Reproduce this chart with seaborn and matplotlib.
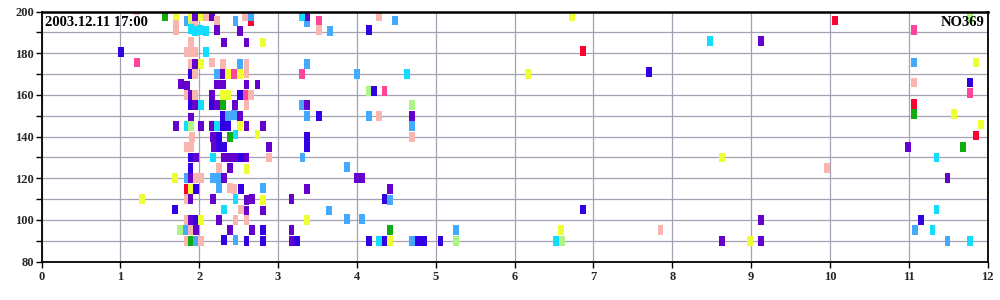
import numpy as np
import pandas as pd
import matplotlib
matplotlib.use("Agg")
import matplotlib.pyplot as plt
import seaborn as sns
from matplotlib.markers import MarkerStyle
from matplotlib.ticker import MultipleLocator

# ---------------- data ----------------
# kinds: P purple, B blue, L light blue, C cyan, S salmon, K pink,
#        R red, G green, E light green, Y yellow
x_vals = [
    1.21, 1.565, 1.71, 1.71, 1.71, 1.84, 1.90, 1.90, 1.95, 1.95, 2.02, 2.09, 2.16, 2.23, 2.46, 2.58, 2.66, 2.66,
    3.37, 3.37, 3.30, 3.52, 3.52, 3.66, 4.28, 4.48, 4.15, 6.73, 6.87, 10.06, 11.77, 11.07, 8.48, 9.12,
    1.90, 1.95, 2.01, 2.09, 2.23, 2.52,
    1.90, 2.32, 2.60, 2.81,
    1.008, 1.84, 1.90, 1.95, 2.09,
    1.21, 1.90, 1.95, 2.02, 2.16, 2.30, 2.52, 2.60, 2.60, 3.37, 11.07, 11.85,
    1.90, 1.95, 2.23, 2.30, 2.37, 2.44, 2.52, 3.30, 4.00, 4.64, 6.17, 7.71,
    1.77, 1.84, 2.23, 2.30, 2.60, 2.74, 11.07, 11.77,
    1.84, 1.90, 1.95, 2.16, 2.30, 2.37, 2.52, 2.59, 2.66, 4.15, 4.22, 4.35, 11.77,
    1.90, 1.95, 2.02, 2.16, 2.23, 2.30, 2.45, 2.60, 3.30, 3.37, 4.70, 11.07,
    1.90, 2.30, 2.37, 2.44, 2.52, 3.37, 3.52, 4.15, 4.28, 4.70, 11.07, 11.57,
    1.71, 1.84, 1.90, 2.02, 2.16, 2.23, 2.30, 2.37, 2.52, 2.60, 2.81, 4.70, 11.91,
    1.91, 2.17, 2.25, 2.39, 2.46, 2.74, 3.37, 4.70, 11.85,
    1.84, 1.90, 2.19, 2.25, 2.32, 2.89, 3.37, 10.99, 11.69,
    1.89, 1.96, 2.17, 2.31, 2.39, 2.46, 2.53, 2.60, 2.89, 3.31, 8.63, 11.35,
    1.89, 2.25, 2.39, 2.60, 3.87, 9.96,
    1.69, 1.84, 1.89, 1.96, 2.02, 2.17, 2.24, 2.31, 4.00, 4.07, 11.49,
    1.84, 1.89, 1.96, 2.25, 2.39, 2.44, 2.53, 2.81, 3.37, 4.42,
    1.27, 1.84, 1.89, 2.17, 2.46, 2.60, 2.67, 2.81, 3.17, 4.35, 4.42,
    1.69, 2.31, 2.53, 2.60, 2.81, 3.65, 6.87, 11.35,
    1.84, 1.89, 1.96, 2.02, 2.25, 2.46, 2.60, 3.37, 3.87, 4.07, 9.12, 11.15,
    1.76, 1.83, 1.89, 1.96, 2.39, 2.67, 2.81, 3.17, 4.42, 5.26, 6.59, 7.85, 11.08, 11.30,
    1.84, 1.89, 1.96, 2.02, 2.31, 2.46, 2.60, 2.81, 3.17, 3.24, 4.15, 4.28, 4.35, 4.42, 4.70, 4.78, 4.85,
    5.06, 5.26, 6.53, 6.60, 8.63, 8.98, 9.12, 11.49, 11.78,
]
y_vals = [
    200.7, 198, 198, 193.8, 190.9, 195.4, 195, 197.7, 194.5, 197.7, 197.7, 197.7, 198, 195.7, 195.4, 198, 195.4, 198,
    195, 197.7, 198, 195.7, 191, 190.7, 198, 195.7, 191, 198, 181, 195.7, 197, 191, 186, 186,
    191.5, 190.5, 191, 190.8, 191, 190.5,
    185.4, 185.2, 185.2, 185.2,
    180.8, 180.5, 180.5, 180.5, 180.5,
    175.6, 175, 175, 175, 175.6, 175, 175, 170.6, 175, 175, 175.6, 175.6,
    170.1, 170.1, 170.1, 170.1, 170.1, 170.1, 170.1, 170.1, 170, 170, 170, 171,
    165.3, 164.5, 165, 165, 165, 165, 166, 166,
    160, 160, 160, 160, 160, 160, 160, 160, 160, 162, 162, 162, 161,
    155, 155, 155, 155, 155, 155, 155, 155, 155, 155, 155, 155.8,
    149, 150, 150, 150.5, 150, 150, 150, 150, 150, 150, 150.7, 150.7,
    145, 145, 145, 145, 145, 145, 145, 145, 145, 145, 145, 145, 145.8,
    140, 140, 140, 140, 141, 141, 140, 140, 140.5,
    135, 135, 135, 135, 135, 135, 135, 135, 135,
    130, 130, 130, 130, 130, 130, 130, 130, 130, 130, 130, 130,
    125, 125, 125, 124.5, 125.3, 125,
    120, 120, 120, 120, 120, 120, 120, 120, 120, 120, 120,
    115, 115, 115, 115.5, 115.5, 115, 115, 115.5, 115, 115,
    110, 110, 110, 110, 110, 109.5, 110, 109.5, 110, 110, 109.5,
    105, 105, 105, 104.5, 104.5, 104.5, 105, 105,
    100, 100, 100, 100, 100, 100, 100, 100, 100.5, 100.5, 100, 100,
    95, 95, 95, 95, 95, 95, 95, 95, 95, 95, 95, 95, 95, 95,
    90, 90, 90, 90, 90.5, 90.5, 90, 90, 90, 90, 90, 90, 90, 90, 90, 90, 90,
    90, 90, 90, 90, 90, 90, 90, 90, 90,
]
kinds = [
    "S", "G", "Y", "S", "S", "L", "E", "Y", "S", "P", "Y", "S", "P", "S", "L", "S", "R", "L",
    "L", "P", "C", "K", "S", "L", "S", "L", "B", "Y", "R", "R", "E", "K", "C", "P",
    "C", "C", "C", "C", "P", "P",
    "S", "P", "P", "Y",
    "B", "S", "S", "S", "C",
    "K", "S", "P", "Y", "S", "S", "L", "S", "S", "L", "L", "Y",
    "B", "S", "L", "P", "Y", "K", "Y", "K", "L", "C", "Y", "B",
    "P", "P", "P", "P", "P", "P", "S", "B",
    "S", "P", "S", "P", "Y", "Y", "B", "K", "S", "E", "B", "K", "K",
    "B", "P", "C", "B", "P", "G", "P", "S", "L", "P", "E", "R",
    "P", "B", "L", "L", "P", "L", "B", "L", "S", "P", "G", "Y",
    "P", "C", "E", "P", "P", "C", "B", "B", "Y", "P", "P", "L", "Y",
    "S", "P", "B", "G", "C", "Y", "B", "S", "R",
    "S", "S", "P", "B", "B", "P", "B", "P", "G",
    "B", "P", "C", "P", "P", "P", "B", "P", "S", "L", "Y", "C",
    "B", "S", "P", "Y", "L", "S",
    "Y", "L", "P", "S", "S", "L", "L", "P", "P", "P", "P",
    "R", "Y", "B", "L", "S", "S", "B", "L", "P", "P",
    "Y", "S", "P", "P", "C", "P", "P", "Y", "P", "B", "L",
    "B", "C", "S", "P", "P", "L", "B", "C",
    "S", "P", "B", "Y", "P", "S", "S", "Y", "L", "L", "P", "B",
    "E", "L", "S", "P", "P", "P", "B", "P", "G", "L", "Y", "S", "L", "C",
    "S", "G", "L", "S", "B", "L", "B", "B", "P", "B", "B", "C", "B", "Y", "L", "B", "B",
    "B", "E", "C", "E", "P", "Y", "P", "L", "C",
]

x_ticks = list(range(0, 13))
y_ticks = [80, 100, 120, 140, 160, 180, 200]
title_left = "2003.12.11 17:00"
title_right = "NO369"

palette = {
    "P": "#6600CC", "B": "#3300E6", "L": "#44AAFF", "C": "#11DDFF",
    "S": "#F8B6AE", "K": "#FF4499", "R": "#FF0033", "G": "#11AA11",
    "E": "#AEF585", "Y": "#EEFF33",
}

df = pd.DataFrame({"x": x_vals, "y": y_vals, "kind": kinds})

# ---------------- figure ----------------
sns.set_theme(style="white")
plt.rcParams["font.family"] = ["Liberation Serif", "DejaVu Serif"]

fig = plt.figure(figsize=(10, 3), dpi=100)
ax = fig.add_axes([0.0415, 0.128, 0.9462, 0.8333])

ax.set_xlim(0, 12)
ax.set_ylim(80, 200)
ax.xaxis.set_major_locator(MultipleLocator(1))
ax.yaxis.set_major_locator(MultipleLocator(20))
ax.yaxis.set_minor_locator(MultipleLocator(10))
ax.grid(True, which="both", color="#A3A3B3", linewidth=0.9)
ax.set_axisbelow(True)

rect = MarkerStyle([(-0.3, -0.5), (0.3, -0.5), (0.3, 0.5), (-0.3, 0.5)])
sns.scatterplot(data=df, x="x", y="y", hue="kind", palette=palette,
                marker=rect, s=50, linewidth=0, edgecolor="none",
                legend=False, ax=ax)

ax.set_xlabel("")
ax.set_ylabel("")
ax.set_xticks(x_ticks)
ax.set_yticks(y_ticks)
ax.set_xticklabels([str(t) for t in x_ticks], fontweight="bold", fontsize=9)
ax.set_yticklabels([str(t) for t in y_ticks], fontweight="bold", fontsize=9)
ax.tick_params(axis="x", which="major", direction="out", length=4, width=1,
               color="black", pad=3, bottom=True)
ax.tick_params(axis="y", which="both", direction="out", length=4, width=1,
               color="black", pad=1.5, left=True)

for side in ["left", "bottom", "right"]:
    ax.spines[side].set_color("black")
    ax.spines[side].set_linewidth(1.3)
ax.spines["top"].set_color("black")
ax.spines["top"].set_linewidth(1.8)

ax.text(0.004, 0.982, title_left, transform=ax.transAxes, ha="left", va="top",
        fontsize=10.5, fontweight="bold", color="black")
ax.text(0.9965, 0.982, title_right, transform=ax.transAxes, ha="right", va="top",
        fontsize=10.5, fontweight="bold", color="black")

fig.savefig("out.png", dpi=100)
